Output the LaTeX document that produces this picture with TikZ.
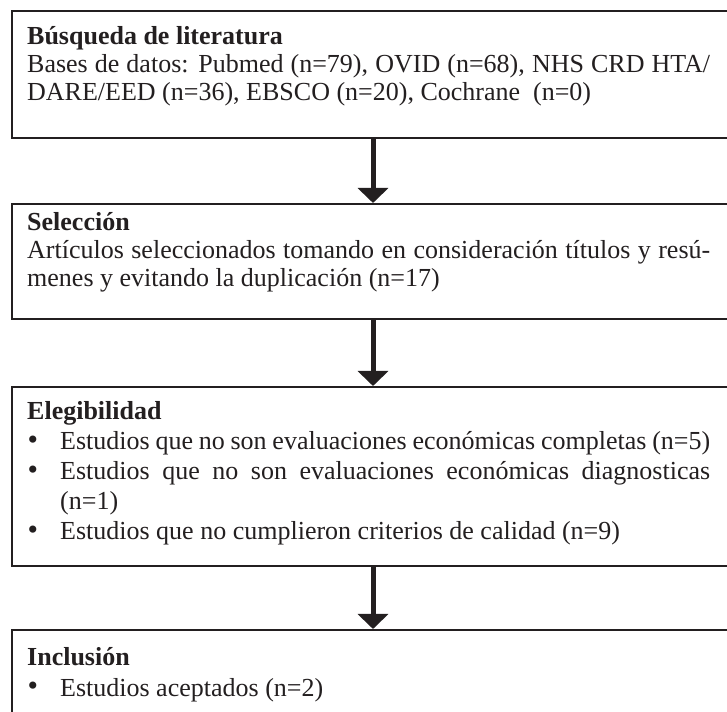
\documentclass[tikz,border=0pt]{standalone}
\usepackage{fontspec}
\setmainfont{Liberation Serif}
\usetikzlibrary{arrows.meta}
\definecolor{ink}{RGB}{35,31,32}
\newcommand\itm[1]{\par\hangindent=33pt\hangafter=1\noindent\makebox[33pt][l]{\hspace{0.5pt}\scalebox{1.15}{\textbullet}}#1}
\tikzset{
  box/.style={draw=ink, line width=2pt, anchor=north west, minimum width=760pt, inner sep=0pt},
  txt/.style={anchor=base west, text width=683pt, align=justify, inner sep=0pt,
    font=\fontsize{26}{28}\selectfont, text=ink},
  txtl/.style={txt, font=\fontsize{26}{30}\selectfont},
  flow/.style={draw=ink, line width=5pt, -{Triangle[width=30pt,length=15pt]}},
}
\begin{document}
\begin{tikzpicture}[x=1pt,y=1pt]
\useasboundingbox (0,0) rectangle (727,711);
\clip (0,0) rectangle (727,711);
\fill[white] (0,0) rectangle (727,711);
% boxes
\node[box, minimum height=127pt] (b1) at (11,701) {};
\node[box, minimum height=115pt] (b2) at (11,508) {};
\node[box, minimum height=179pt] (b3) at (11,325) {};
\node[box, minimum height=120pt] (b4) at (11,82) {};
% texts
\node[txt] (t1) at (27,666) {\textbf{Búsqueda de literatura}\par
Bases de datos: Pubmed (n=79), OVID (n=68), NHS CRD HTA/\linebreak DARE/EED (n=36), EBSCO (n=20), Cochrane\ \ (n=0)};
\node[txt] (t2) at (27,480) {\textbf{Selección}\par
Artículos seleccionados tomando en consideración títulos y resú-\linebreak menes y evitando la duplicación (n=17)};
\node[txtl] (t3) at (27,291) {\textbf{Elegibilidad}
\itm{Estudios que no son evaluaciones económicas completas (n=5)}
\itm{Estudios que no son evaluaciones económicas diagnosticas\linebreak (n=1)}
\itm{Estudios que no cumplieron criterios de calidad (n=9)}};
\node[txtl] (t4) at (27,45) {\textbf{Inclusión}
\itm{Estudios aceptados (n=2)}};
% connectors
\coordinate (ax) at (373,0);
\draw[flow] (b1.south -| ax) -- (b2.north -| ax);
\draw[flow] (b2.south -| ax) -- (b3.north -| ax);
\draw[flow] (b3.south -| ax) -- (b4.north -| ax);
\end{tikzpicture}
\end{document}
